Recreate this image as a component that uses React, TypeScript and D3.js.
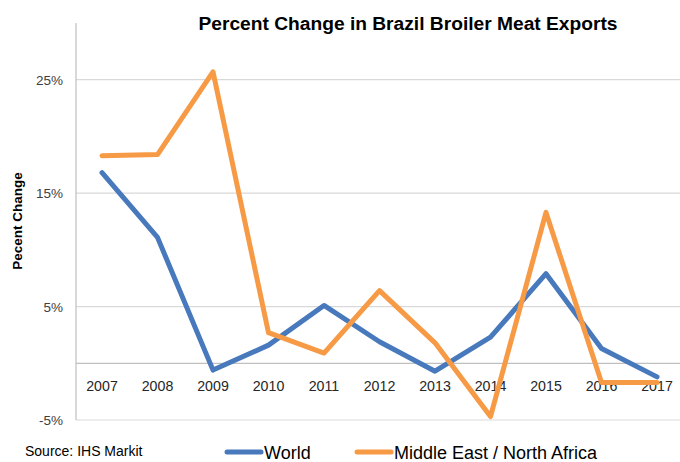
import React from "react";
import * as d3 from "d3";

const years = ["2007","2008","2009","2010","2011","2012","2013","2014","2015","2016","2017"];
const world = [16.8, 11.1, -0.6, 1.6, 5.1, 1.9, -0.7, 2.3, 7.9, 1.3, -1.2];
const mena = [18.3, 18.4, 25.7, 2.7, 0.9, 6.4, 1.8, -4.7, 13.3, -1.7, -1.7];
const yTicks = [-5, 5, 15, 25];
const seriesNames = ["World", "Middle East / North Africa"];
const colors = ["#4779BC", "#F79A45"];

const W = 680, H = 462;
const FONT = "'Liberation Sans', Arial, sans-serif";

export default function App() {
  const x = d3.scalePoint<string>().domain(years).range([102, 657]);
  const y = d3.scaleLinear().domain([-5, 30]).range([420, 23]);
  const line = d3.line<number>().x((_, i) => x(years[i])!).y(d => y(d));
  const left = 76;
  return (
    <svg width={W} height={H} style={{ position: "absolute", left: 0, top: 0, background: "#fff" }}>
      <rect width={W} height={H} fill="#fff" />
      {/* title */}
      <text x={408} y={30} textAnchor="middle" fontFamily={FONT} fontWeight="bold" fontSize={19.2} fill="#000">
        Percent Change in Brazil Broiler Meat Exports
      </text>
      {/* gridlines */}
      {yTicks.map(t => (
        <line key={t} x1={left} x2={W} y1={y(t)} y2={y(t)} stroke="#D9D9D9" strokeWidth={1.2} />
      ))}
      {/* zero axis */}
      <line x1={left} x2={W} y1={y(0)} y2={y(0)} stroke="#BFBFBF" strokeWidth={1.2} />
      {/* y axis line */}
      <line x1={left} x2={left} y1={y(30)} y2={y(-5)} stroke="#BFBFBF" strokeWidth={1.2} />
      {/* y tick labels */}
      {yTicks.map(t => (
        <text key={t} x={63} y={y(t) + 5} textAnchor="end" fontFamily={FONT} fontSize={13.5} fill="#404040">
          {t}%
        </text>
      ))}
      {/* y axis title */}
      <text transform={`translate(22,${221}) rotate(-90)`} textAnchor="middle" fontFamily={FONT} fontWeight="bold" fontSize={13.5} fill="#000">
        Pecent Change
      </text>
      {/* x labels */}
      {years.map(yr => (
        <text key={yr} x={x(yr)!} y={391} textAnchor="middle" fontFamily={FONT} fontSize={14.2} fill="#262626">
          {yr}
        </text>
      ))}
      {/* series */}
      <path d={line(world)!} fill="none" stroke={colors[0]} strokeWidth={5} strokeLinejoin="round" strokeLinecap="round" />
      <path d={line(mena)!} fill="none" stroke={colors[1]} strokeWidth={5} strokeLinejoin="round" strokeLinecap="round" />
      {/* legend */}
      <line x1={227} x2={261} y1={452} y2={452} stroke={colors[0]} strokeWidth={5} strokeLinecap="round" />
      <text x={264} y={459} fontFamily={FONT} fontSize={18} fill="#000">{seriesNames[0]}</text>
      <line x1={357} x2={391} y1={452} y2={452} stroke={colors[1]} strokeWidth={5} strokeLinecap="round" />
      <text x={394} y={459} fontFamily={FONT} fontSize={18} fill="#000">{seriesNames[1]}</text>
      {/* source */}
      <text x={25} y={456} fontFamily={FONT} fontSize={14} fill="#000">Source: IHS Markit</text>
    </svg>
  );
}
